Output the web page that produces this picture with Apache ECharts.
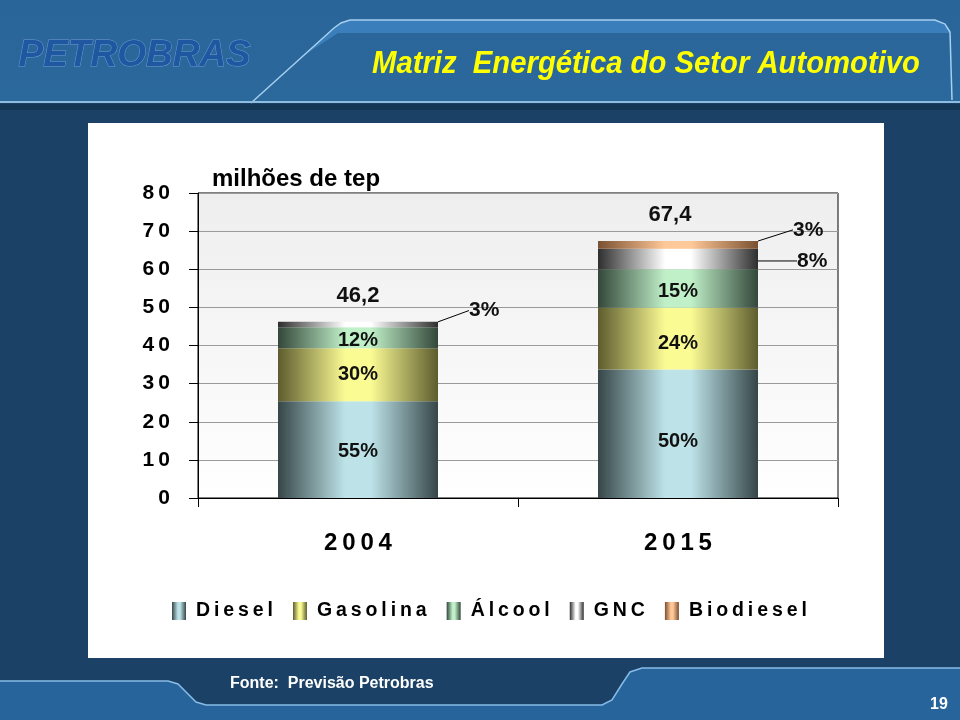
<!DOCTYPE html>
<html>
<head>
<meta charset="utf-8">
<script src="https://cdn.jsdelivr.net/npm/echarts@6/dist/echarts.min.js"></script>
<style>
  html, body { margin: 0; padding: 0; background: #1b4268; }
  #chart { width: 960px; height: 720px; }
</style>
</head>
<body>
<div id="chart"></div>
<script>
// ---- data ----
const categories = ['2004', '2015'];
const seriesNames = ['Diesel', 'Gasolina', 'Álcool', 'GNC', 'Biodiesel'];
const diesel    = [25.4, 33.7];
const gasolina  = [13.9, 16.2];
const alcool    = [5.5, 10.1];
const gnc       = [1.4, 5.4];
const biodiesel = [0, 2.0];
const dieselPct    = ['55%', '50%'];
const gasolinaPct  = ['30%', '24%'];
const alcoolPct    = ['12%', '15%'];
const gncPct       = ['3%', '8%'];
const biodieselPct = ['', '3%'];
const totals = ['46,2', '67,4'];
const yTicks = [0, 10, 20, 30, 40, 50, 60, 70, 80];
const titleText = 'Matriz  Energética do Setor Automotivo';

const SANS = "'Liberation Sans', Arial, Helvetica, sans-serif";
const THIN = '\u2009';

function grad(edge, light) {
  return new echarts.graphic.LinearGradient(0, 0, 1, 0, [
    { offset: 0, color: edge },
    { offset: 0.42, color: light },
    { offset: 0.58, color: light },
    { offset: 1, color: edge }
  ]);
}
const colors = [
  grad('#364648', '#bde3e8'),
  grad('#5d5c2e', '#fbfb94'),
  grad('#33473a', '#c0f0c8'),
  grad('#2e2e2e', '#ffffff'),
  grad('#7a5030', '#ffc898')
];
const values = [diesel, gasolina, alcool, gnc, biodiesel];
const pcts = [dieselPct, gasolinaPct, alcoolPct, gncPct, biodieselPct];

const spaced = s => String(s).split('').join(THIN);

// label moves: outside ones get leader lines
const outsideMoves = {
  '3-0': { dx: 27, dy: -14 },
  '3-1': { dx: 35, dy: 2 },
  '4-1': { dx: 31, dy: -15 }
};
const insideMoves = {
  '0-0': { dy: 2 }, '1-0': { dy: 0 }, '2-0': { dy: 3 },
  '0-1': { dy: 8 }, '1-1': { dy: 5 }, '2-1': { dy: 3 }
};

const series = values.map((arr, si) => ({
  name: seriesNames[si],
  type: 'bar',
  stack: 'total',
  barWidth: '50%',
  itemStyle: { color: colors[si] },
  emphasis: { disabled: true },
  data: arr.map((v, di) => {
    const item = { value: v };
    const outside = outsideMoves[si + '-' + di];
    if (outside) {
      item.label = { show: true, position: 'right', distance: 4, fontSize: 21 };
      item.labelLine = { show: true };
    } else if (si < 3) {
      item.label = { show: true, position: 'inside' };
    } else {
      item.label = { show: false };
    }
    return item;
  }),
  label: {
    formatter: p => pcts[si][p.dataIndex],
    color: '#111',
    fontFamily: SANS,
    fontWeight: 'bold',
    fontSize: 20
  },
  labelLine: { show: false, lineStyle: { color: '#000', width: 1 } },
  labelLayout: p => outsideMoves[si + '-' + p.dataIndex] || insideMoves[si + '-' + p.dataIndex] || {}
}));

// zero-height carrier for the totals on top of each stack
series.push({
  name: 'Total',
  type: 'bar',
  stack: 'total',
  barWidth: '50%',
  itemStyle: { color: 'rgba(0,0,0,0)' },
  emphasis: { disabled: true },
  data: categories.map(() => ({ value: 0 })),
  label: {
    show: true,
    position: 'top',
    distance: 15,
    formatter: p => totals[p.dataIndex],
    color: '#111',
    fontFamily: SANS,
    fontWeight: 'bold',
    fontSize: 22
  },
  labelLayout: p => (p.dataIndex === 1 ? { dx: -8 } : {})
});

// condense the title to the reference width
const titleFont = "italic bold 31px 'Liberation Sans', Arial, sans-serif";
const mctx = document.createElement('canvas').getContext('2d');
mctx.font = titleFont;
const titleScale = 548 / mctx.measureText(titleText).width;

const chart = echarts.init(document.getElementById('chart'), null, { renderer: 'canvas' });

const bg = [
  { type: 'rect', z: -20, shape: { x: 0, y: 0, width: 960, height: 720 }, style: { fill: '#1b4266' } },
  { type: 'rect', z: -19, shape: { x: 0, y: 0, width: 960, height: 103 },
    style: { fill: new echarts.graphic.LinearGradient(0, 0, 0, 1, [{ offset: 0, color: '#2a6599' }, { offset: 1, color: '#2b689c' }]) } },
  { type: 'polygon', z: -18, shape: { points: [[300, 58], [336, 26], [350, 20], [935, 20], [948, 27], [950, 33], [338, 33]] },
    style: { fill: '#3a7fbb' } },
  { type: 'polyline', z: -17, shape: { points: [[251, 103], [334, 28], [341, 23], [350, 20], [935, 20], [945, 24], [950, 32], [952, 100]] },
    style: { stroke: '#a6d0f0', lineWidth: 1.5, fill: null } },
  { type: 'line', z: -17, shape: { x1: 0, y1: 102, x2: 960, y2: 102 }, style: { stroke: '#8fbde0', lineWidth: 2 } },
  { type: 'rect', z: -19, shape: { x: 0, y: 104, width: 960, height: 6 }, style: { fill: '#143656' } },
  { type: 'polygon', z: -18, shape: { points: [[0, 681], [168, 681], [178, 684], [186, 692], [196, 702], [206, 705], [602, 705], [612, 700], [622, 684], [630, 672], [642, 668], [960, 668], [960, 720], [0, 720]] },
    style: { fill: '#27649b' } },
  { type: 'polyline', z: -17, shape: { points: [[0, 681], [168, 681], [178, 684], [186, 692], [196, 702], [206, 705], [602, 705], [612, 700], [622, 684], [630, 672], [642, 668], [960, 668]] },
    style: { stroke: '#86bce6', lineWidth: 1.5, fill: null } },
  { type: 'rect', z: -16, shape: { x: 88, y: 123, width: 796, height: 535 }, style: { fill: '#ffffff' } },
  // logo & titles
  { type: 'text', z: 50, left: 18, top: 37,
    style: { text: 'PETROBRAS', font: "italic bold 37px 'Liberation Sans', Arial, sans-serif", fill: '#1f58a0', stroke: '#6d9bd2', lineWidth: 1 } },
  { type: 'text', z: 50, x: 372, y: 49, scaleX: titleScale, scaleY: 1,
    style: { text: titleText, font: titleFont, fill: '#ffff00', textBaseline: 'top',
      textShadowColor: '#000', textShadowOffsetX: 2, textShadowOffsetY: 2, textShadowBlur: 0 } },
  { type: 'text', z: 50, left: 212, top: 167,
    style: { text: 'milhões de tep', font: "bold 24px " + SANS, fill: '#000' } },
  { type: 'text', z: 50, left: 230, top: 676,
    style: { text: 'Fonte:  Previsão Petrobras', font: "bold 16px " + SANS, fill: '#ffffff',
      textShadowColor: '#000', textShadowOffsetX: 1, textShadowOffsetY: 1 } },
  { type: 'text', z: 50, left: 930, top: 697,
    style: { text: '19', font: "bold 16px " + SANS, fill: '#ffffff' } }
];

chart.setOption({
  animation: false,
  backgroundColor: 'transparent',
  graphic: { elements: bg },
  grid: {
    left: 198, top: 193, width: 640, height: 305,
    show: true,
    borderColor: '#000', borderWidth: 1,
    backgroundColor: new echarts.graphic.LinearGradient(0, 0, 0, 1, [
      { offset: 0, color: '#eeeeee' }, { offset: 1, color: '#ffffff' }
    ])
  },
  legend: {
    data: seriesNames,
    left: 167, top: 596,
    itemWidth: 14, itemHeight: 18, itemGap: 20,
    icon: 'rect',
    formatter: name => spaced(name),
    textStyle: { fontFamily: SANS, fontWeight: 'bold', fontSize: 19.5, color: '#000', padding: [0, 0, 0, 5] }
  },
  xAxis: {
    type: 'category',
    data: categories,
    axisLine: { lineStyle: { color: '#000', width: 1 } },
    axisTick: { show: true, length: 9, lineStyle: { color: '#000' } },
    axisLabel: { margin: 33, formatter: v => spaced(v), fontFamily: SANS, fontWeight: 'bold', fontSize: 24, color: '#000' }
  },
  yAxis: {
    type: 'value',
    min: yTicks[0], max: yTicks[yTicks.length - 1], interval: 10,
    axisLine: { show: true, lineStyle: { color: '#000', width: 1 } },
    axisTick: { show: true, length: 9, lineStyle: { color: '#000' } },
    splitLine: { lineStyle: { color: '#9a9a9a', width: 1 } },
    axisLabel: { margin: 28, formatter: v => spaced(v), fontFamily: SANS, fontWeight: 'bold', fontSize: 21, color: '#000' }
  },
  series: series
});
</script>
</body>
</html>
